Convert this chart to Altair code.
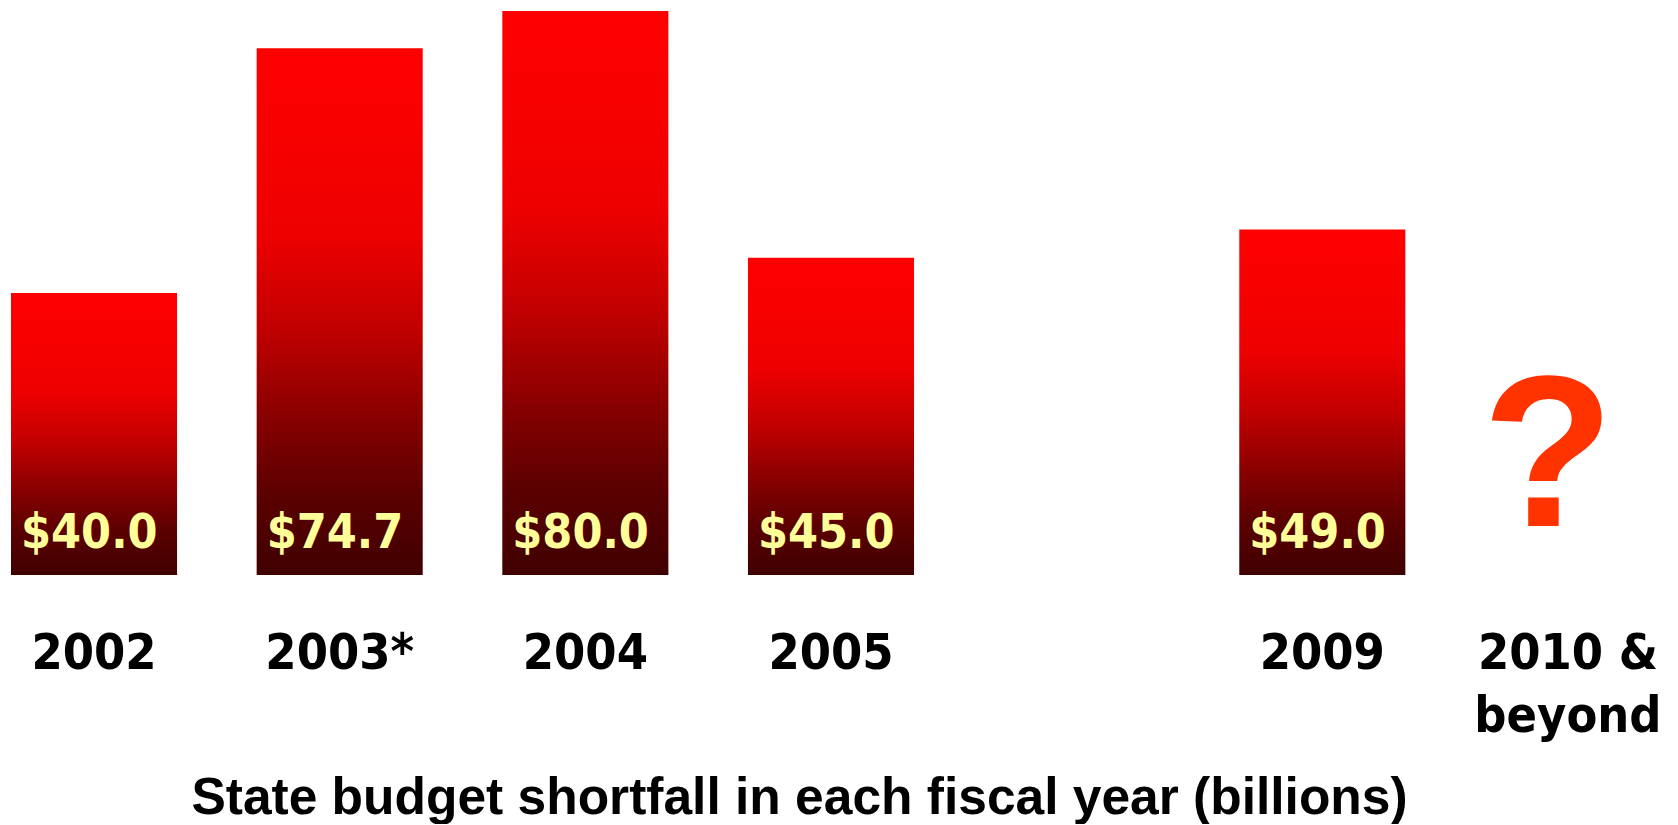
import altair as alt
import pandas as pd

# ---- data ----
categories = ["2002", "2003*", "2004", "2005", " ", "2009", "2010 & beyond"]
bar_years = ["2002", "2003*", "2004", "2005", "2009"]
shortfall = [40.0, 74.7, 80.0, 45.0, 49.0]
unknown_year = ["2010 & beyond"]
unknown_mark = ["?"]

bars_df = pd.DataFrame({"year": bar_years, "value": shortfall})
q_df = pd.DataFrame({"year": unknown_year, "label": unknown_mark})

title_text = "State budget shortfall in each fiscal year (billions)"
FONT = "DejaVu Sans Condensed"

xscale = alt.Scale(domain=categories, paddingInner=0.324, paddingOuter=0)
yscale = alt.Scale(domain=[0, 80], nice=False, zero=True)

xaxis = alt.Axis(
    title=title_text,
    domain=False, ticks=False, tickSize=0, grid=False,
    labelAngle=0, labelFont=FONT, labelFontWeight="bold", labelFontSize=50,
    labelColor="black", labelBaseline="alphabetic", labelPadding=93,
    labelLineHeight=63, labelAlign="center", labelLimit=0, labelOverlap=False,
    labelExpr="datum.value == '2010 & beyond' ? ['2010 &', 'beyond'] : datum.value",
    titleFont="Liberation Sans", titleFontWeight="bold", titleFontSize=51.5,
    titleColor="black", titleLimit=0,
    titleX=788, titleY=238, titleAlign="center", titleBaseline="alphabetic",
    titleAngle=0,
)

gradient = alt.Gradient(
    gradient="linear",
    x1=0, x2=0, y1=0, y2=1,
    stops=[
        alt.GradientStop(color="#FF0000", offset=0),
        alt.GradientStop(color="#EE0000", offset=0.35),
        alt.GradientStop(color="#C20000", offset=0.53),
        alt.GradientStop(color="#880000", offset=0.70),
        alt.GradientStop(color="#5A0000", offset=0.85),
        alt.GradientStop(color="#400000", offset=1),
    ],
)

bars = alt.Chart(bars_df).mark_bar(color=gradient, strokeWidth=0).encode(
    x=alt.X("year:N", scale=xscale, axis=xaxis, sort=categories),
    y=alt.Y("value:Q", scale=yscale, axis=None),
)

value_labels = alt.Chart(bars_df).mark_text(
    font=FONT, fontWeight="bold", fontSize=48, color="#FFFF99",
    align="left", baseline="alphabetic", dx=10, dy=-27,
).encode(
    x=alt.X("year:N", scale=xscale, sort=categories, bandPosition=0),
    y=alt.datum(0),
    text=alt.Text("value:Q", format="$.1f"),
)

question = alt.Chart(q_df).mark_text(
    font="Liberation Sans", fontWeight="bold", fontSize=216, color="#FF3300",
    align="center", baseline="alphabetic", dx=-20, dy=-49,
).encode(
    x=alt.X("year:N", scale=xscale, sort=categories),
    y=alt.datum(0),
    text="label:N",
)

chart = alt.layer(bars, value_labels, question).properties(
    width=1640, height=564, background="white",
    padding={"left": 3, "top": 3, "right": 0, "bottom": 0},
).configure_view(strokeWidth=0, stroke=None)

chart.save("out.html", embed_options={"renderer": "svg", "actions": False})
